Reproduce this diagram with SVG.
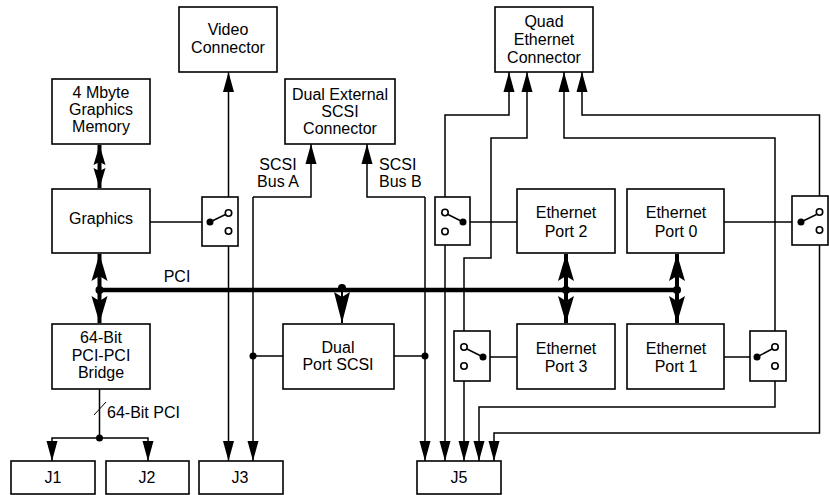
<svg xmlns="http://www.w3.org/2000/svg" width="829" height="495" viewBox="0 0 829 495">
<defs>
<style>
.box{fill:#fff;stroke:#000;stroke-width:1.6}
.t{font-family:"Liberation Sans",Arial,sans-serif;font-size:16px;fill:#000;text-anchor:middle}
.tl{font-family:"Liberation Sans",Arial,sans-serif;font-size:16px;fill:#000}
.ln{fill:none;stroke:#000;stroke-width:1.5}
.arr{marker-end:url(#ah)}
.oc{fill:#fff;stroke:#000;stroke-width:1.6}
.dot{fill:#000}
.bus{fill:none;stroke:#000;stroke-width:4.5}
.thick{fill:none;stroke:#000;stroke-width:4}
</style>
<marker id="ah" markerUnits="userSpaceOnUse" markerWidth="22" markerHeight="12" refX="20" refY="5.5" orient="auto" overflow="visible"><path d="M0,0 L20,5.5 L0,11 z"/></marker>
<marker id="bh" markerUnits="userSpaceOnUse" markerWidth="28" markerHeight="16" refX="27" refY="8" orient="auto-start-reverse" overflow="visible"><path d="M0,0 L27,8 L0,16 L5,8 z"/></marker>
<marker id="mh" markerUnits="userSpaceOnUse" markerWidth="21" markerHeight="12" refX="20" refY="6" orient="auto-start-reverse" overflow="visible"><path d="M0,0 L20,6 L0,12 L3,6 z"/></marker>
<marker id="sh" markerUnits="userSpaceOnUse" markerWidth="32" markerHeight="16" refX="31" refY="8" orient="auto" overflow="visible"><path d="M0,0 L31,8 L0,16 L5,8 z"/></marker>
</defs>

<g id="connectors">
<!-- PCI bus -->
<path class="bus" d="M99.5,290 H677"/>
<text class="t" x="177" y="282">PCI</text>
<path class="thick" d="M99.5,254 V323" marker-start="url(#bh)" marker-end="url(#bh)"/>
<path class="thick" d="M566,254 V323" marker-start="url(#bh)" marker-end="url(#bh)"/>
<path class="thick" d="M677,254 V323" marker-start="url(#bh)" marker-end="url(#bh)"/>
<path class="thick" d="M99.5,145 V188" marker-start="url(#mh)" marker-end="url(#mh)"/>
<path class="ln" style="stroke-width:2" d="M342,290 V323" marker-end="url(#sh)"/>
<circle class="dot" cx="99.5" cy="290" r="4"/>
<circle class="dot" cx="342" cy="288" r="4"/>
<circle class="dot" cx="566" cy="290" r="4"/>
<circle class="dot" cx="677" cy="290" r="4"/>

<!-- Graphics switch -->
<path class="ln" d="M150,222 H210"/>
<path class="ln arr" d="M228.5,209.5 V72"/>
<path class="ln arr" d="M228.5,233.5 V461"/>

<!-- SCSI buses -->
<path class="ln arr" d="M253,197 V461"/>
<path class="ln arr" d="M253,197 H311 V144"/>
<path class="ln arr" d="M425,197 V461"/>
<path class="ln arr" d="M425,197 H367 V144"/>
<text class="t" x="278" y="170">SCSI</text>
<text class="t" x="278" y="187">Bus A</text>
<text class="tl" x="379" y="170">SCSI</text>
<text class="tl" x="379" y="187">Bus B</text>
<path class="ln" d="M253,356 H283"/>
<path class="ln" d="M394,356 H425"/>
<circle class="dot" cx="253" cy="356" r="3.5"/>
<circle class="dot" cx="425" cy="356" r="3.5"/>

<!-- Ethernet switches -->
<path class="ln" d="M463,222 H517"/>
<path class="ln arr" d="M445,209.5 V115 H509 V72"/>
<path class="ln arr" d="M445,234.5 V461"/>
<path class="ln" d="M483,357 H517"/>
<path class="ln arr" d="M464,344 V258 H491 V138 H527 V72"/>
<path class="ln arr" d="M464,369 V461"/>
<path class="ln" d="M724,357 H757"/>
<path class="ln arr" d="M775,344 V138 H564 V72"/>
<path class="ln arr" d="M775,369 V407 H479 V461"/>
<path class="ln" d="M724,222 H801"/>
<path class="ln arr" d="M819.5,209 V115 H582 V72"/>
<path class="ln arr" d="M819.5,233.5 V433 H494 V461"/>

<!-- Bridge to J1/J2 -->
<path class="ln" d="M99.5,389 V438"/>
<path class="ln arr" d="M99.5,438 H52 V461"/>
<path class="ln arr" d="M99.5,438 H148 V461"/>
<circle class="dot" cx="99.5" cy="438" r="3.5"/>
<path class="ln" style="stroke-width:1" d="M94,415 L106,402"/>
<text class="tl" x="107" y="418">64-Bit PCI</text>
</g>

<g id="switch-graphics">
<rect class="box" x="202" y="197" width="36" height="49"/>
<path class="ln" d="M210,222 L225.5,214.5"/>
<circle class="dot" cx="210" cy="222" r="3.5"/>
<circle class="oc" cx="228.5" cy="213" r="3.2"/>
<circle class="oc" cx="228.5" cy="231" r="3.2"/>
</g>
<g id="switch-eth2">
<rect class="box" x="435" y="197" width="35" height="48"/>
<path class="ln" d="M463,222 L448,214.5"/>
<circle class="dot" cx="463" cy="222" r="3.5"/>
<circle class="oc" cx="445" cy="212.5" r="3.2"/>
<circle class="oc" cx="445" cy="231.5" r="3.2"/>
</g>
<g id="switch-eth3">
<rect class="box" x="454" y="331" width="36" height="50"/>
<path class="ln" d="M483,357 L467,349"/>
<circle class="dot" cx="483" cy="357" r="3.5"/>
<circle class="oc" cx="464" cy="347" r="3.2"/>
<circle class="oc" cx="464" cy="366" r="3.2"/>
</g>
<g id="switch-eth1">
<rect class="box" x="750" y="331" width="36" height="50"/>
<path class="ln" d="M757,357 L772,349"/>
<circle class="dot" cx="757" cy="357" r="3.5"/>
<circle class="oc" cx="775" cy="347" r="3.2"/>
<circle class="oc" cx="775" cy="366" r="3.2"/>
</g>
<g id="switch-eth0">
<rect class="box" x="792" y="196" width="36" height="49"/>
<path class="ln" d="M801,222 L816.5,214.5"/>
<circle class="dot" cx="801" cy="222" r="3.5"/>
<circle class="oc" cx="819.5" cy="212" r="3.2"/>
<circle class="oc" cx="819.5" cy="230" r="3.2"/>
</g>

<g id="video-connector">
<rect class="box" x="179" y="7" width="98" height="65"/>
<text class="t" x="228" y="35">Video</text>
<text class="t" x="228" y="53">Connector</text>
</g>
<g id="graphics-memory">
<rect class="box" x="52" y="79" width="98" height="65"/>
<text class="t" x="101" y="98">4 Mbyte</text>
<text class="t" x="101" y="115">Graphics</text>
<text class="t" x="101" y="132">Memory</text>
</g>
<g id="graphics">
<rect class="box" x="52" y="189" width="98" height="64"/>
<text class="t" x="101" y="224">Graphics</text>
</g>
<g id="ext-scsi-connector">
<rect class="box" x="285" y="79" width="110" height="65"/>
<text class="t" x="340" y="100">Dual External</text>
<text class="t" x="340" y="117">SCSI</text>
<text class="t" x="340" y="134">Connector</text>
</g>
<g id="quad-ethernet-connector">
<rect class="box" x="495" y="7" width="98" height="65"/>
<text class="t" x="544" y="27">Quad</text>
<text class="t" x="544" y="45">Ethernet</text>
<text class="t" x="544" y="63">Connector</text>
</g>
<g id="ethernet-port-2">
<rect class="box" x="517" y="189" width="98" height="64"/>
<text class="t" x="566" y="218">Ethernet</text>
<text class="t" x="566" y="237">Port 2</text>
</g>
<g id="ethernet-port-0">
<rect class="box" x="627" y="189" width="97" height="64"/>
<text class="t" x="676" y="218">Ethernet</text>
<text class="t" x="676" y="237">Port 0</text>
</g>
<g id="ethernet-port-3">
<rect class="box" x="517" y="324" width="98" height="65"/>
<text class="t" x="566" y="354">Ethernet</text>
<text class="t" x="566" y="372">Port 3</text>
</g>
<g id="ethernet-port-1">
<rect class="box" x="627" y="324" width="97" height="65"/>
<text class="t" x="676" y="354">Ethernet</text>
<text class="t" x="676" y="372">Port 1</text>
</g>
<g id="dual-port-scsi">
<rect class="box" x="283" y="324" width="111" height="65"/>
<text class="t" x="338" y="353">Dual</text>
<text class="t" x="338" y="370">Port SCSI</text>
</g>
<g id="pci-bridge">
<rect class="box" x="52" y="324" width="98" height="65"/>
<text class="t" x="101" y="343">64-Bit</text>
<text class="t" x="101" y="361">PCI-PCI</text>
<text class="t" x="101" y="378">Bridge</text>
</g>
<g id="j1">
<rect class="box" x="11" y="461" width="84" height="33"/>
<text class="t" x="53" y="483">J1</text>
</g>
<g id="j2">
<rect class="box" x="106" y="461" width="83" height="33"/>
<text class="t" x="147" y="483">J2</text>
</g>
<g id="j3">
<rect class="box" x="199" y="461" width="84" height="33"/>
<text class="t" x="240" y="483">J3</text>
</g>
<g id="j5">
<rect class="box" x="417" y="461" width="84" height="33"/>
<text class="t" x="459" y="483">J5</text>
</g>
</svg>
